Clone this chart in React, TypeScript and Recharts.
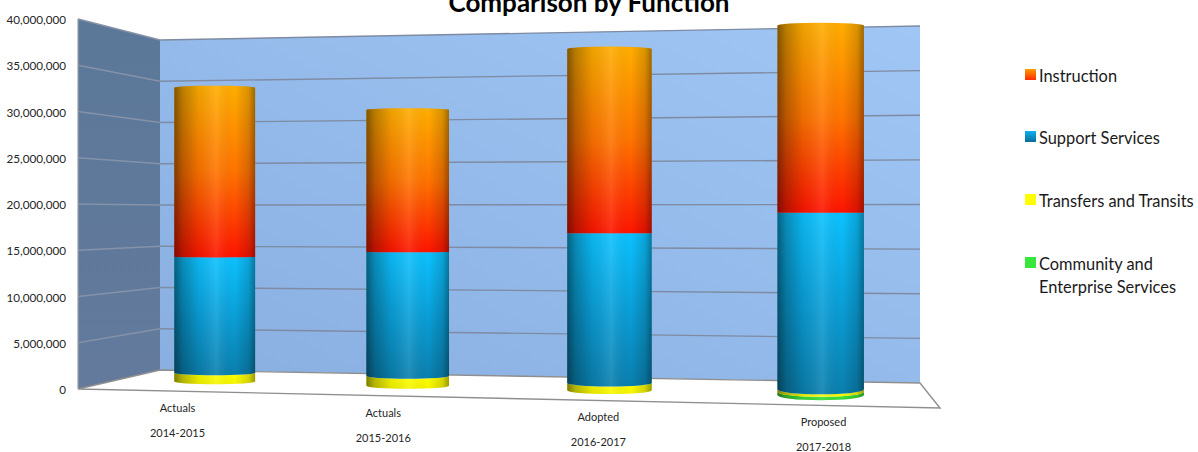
import React from "react";
import { Bar, BarChart, CartesianGrid, Legend, XAxis, YAxis } from "recharts";

// Budget by function, dollars per fiscal year
const periods = ["Actuals", "Actuals", "Adopted", "Proposed"];
const years = ["2014-2015", "2015-2016", "2016-2017", "2017-2018"];
const community = [0, 0, 0, 350000];
const transfers = [1000000, 1090000, 800000, 250000];
const support = [13100000, 13750000, 16250000, 18750000];
const instruction = [19150000, 15750000, 20000000, 19900000];
const axisTicks = [0, 5000000, 10000000, 15000000, 20000000, 25000000, 30000000, 35000000, 40000000];

const rows = years.map((year, i) => ({
  year,
  period: periods[i],
  community: community[i],
  transfers: transfers[i],
  support: support[i],
  instruction: instruction[i],
}));

const FONT = "Lato, sans-serif";
const WIDTH = 1198;
const HEIGHT = 452;
const PLOT_LEFT = 78;
const PLOT_RIGHT = 940;
const PLOT_TOP = 19;
const PLOT_BOTTOM = 389;

// Perspective of the box: evenly spaced categories crowd towards the left.
const PERSPECTIVE = -0.0862;
const depthScale = (u: number) => 1 + PERSPECTIVE * u;
const planeX = (u: number) => (728.5 * u + 121.1) / depthScale(u);
const frontX = (u: number) => (781 * u + 78) / depthScale(u);
const frontFloorY = (x: number) => 389 + 0.022 * (x - 78);
const toU = (x: number) => (x - PLOT_LEFT) / (PLOT_RIGHT - PLOT_LEFT);
const toV = (y: number) => (PLOT_BOTTOM - y) / (PLOT_BOTTOM - PLOT_TOP);

// Value height on the plane the cylinders stand on.
const planeY = (x: number, v: number) => {
  const base = 381.5 + 0.02228 * (x - 214.5);
  const top = 28 - 0.01568 * (x - 214.5);
  return base + (top - base) * v;
};

// How far a cylinder's rim bows at a given height on the page.
const HORIZON = 230;
const rimBow = (y: number, u: number) =>
  y < HORIZON ? (y - HORIZON) * 0.014 : (y - HORIZON) * (0.018 + 0.02 * u * u * u);

const rimArc = (toX: number, y: number, rx: number, bow: number, leftward: boolean) => {
  const ry = Math.abs(bow);
  if (ry < 0.15) return `L${toX},${y}`;
  const bulgesDown = bow > 0;
  const sweep = leftward === bulgesDown ? 1 : 0;
  return `A${rx} ${ry} 0 0 ${sweep} ${toX} ${y}`;
};

// Draws one stacked segment as a slice of a shaded cylinder.
const cylinder = (fillId: string) => (props: any) => {
  const { x, y, width, height } = props;
  if (!height || height <= 0) return <g />;
  const u = toU(x + width / 2);
  const cx = planeX(u);
  const half = width / 2 / depthScale(u);
  const top = planeY(cx, toV(y));
  const bottom = planeY(cx, toV(y + height));
  const l = cx - half;
  const r = cx + half;
  const d =
    `M${l},${top}` +
    rimArc(r, top, half, rimBow(top, u), false) +
    `L${r},${bottom}` +
    rimArc(l, bottom, half, rimBow(bottom, u), true) +
    "Z";
  return (
    <g>
      <path d={d} fill={`url(#${fillId})`} />
      <path d={d} fill="url(#cylinderShade)" />
    </g>
  );
};

// The left wall and the back wall of the box, plus the floor outline.
const Walls = () => (
  <g>
    <polygon points="78,19 160,40 160,370 78,389" fill="url(#sideWall)" />
    <polygon points="160,40 920,26 920,383 160,370" fill="url(#backWall)" />
    <polyline
      points="78,389 940,408 920,383 160,370 78,389"
      fill="#ffffff"
      stroke="#8f8f8f"
      strokeWidth={1.4}
    />
    <line x1={78} y1={19} x2={78} y2={389} stroke="#9a9fa8" strokeWidth={1.2} />
  </g>
);

// A gridline wraps around the box: along the side wall, then across the back.
// The walls go in with the first line so they lie under all of the grid.
const wrappedGridLine = (props: any) => {
  const v = toV(props.y1);
  const frontY = props.y1;
  const backLeft = 370 - 330 * v;
  const backRight = 383 - 357 * v;
  return (
    <g key={props.key}>
      {props.index === 0 ? <Walls /> : null}
      {v > 0.001 ? (
        <>
          <line x1={78} y1={frontY} x2={160} y2={backLeft} stroke="#8592a8" strokeWidth={1.4} />
          <line x1={160} y1={backLeft} x2={920} y2={backRight} stroke="#7e8ba2" strokeWidth={1.4} />
        </>
      ) : null}
    </g>
  );
};

const CategoryTick = (props: any) => {
  const { x, payload, index } = props;
  const px = frontX(toU(x));
  const floor = frontFloorY(px);
  return (
    <g fontFamily={FONT} fontSize={11} fill="#262626" textAnchor="middle">
      <text x={px} y={floor + 21}>{rows[index]?.period}</text>
      <text x={px} y={floor + 46}>{payload.value}</text>
    </g>
  );
};

const swatches: Record<string, string> = {
  "Instruction": "linear-gradient(#ff9c00, #ff2a00)",
  "Support Services": "linear-gradient(#0cb2f2, #0a6c98)",
  "Transfers and Transits": "#ffff00",
  "Community and Enterprise Services": "#38e63c",
};

const legendTops = [64, 126, 189, 252];

const SideLegend = (props: any) => {
  const order = Object.keys(swatches);
  const items = [...(props.payload ?? [])].sort(
    (a: any, b: any) => order.indexOf(a.value) - order.indexOf(b.value),
  );
  return (
    <div style={{ position: "relative", fontFamily: FONT, fontSize: 16.4, color: "#1a1a1a", lineHeight: "23px" }}>
      {items.map((item: any, i: number) => (
        <div key={item.value} style={{ position: "absolute", top: legendTops[i], left: 0, width: 173 }}>
          <span
            style={{
              position: "absolute",
              left: 0,
              top: 5,
              width: 11,
              height: 11,
              background: swatches[item.value],
            }}
          />
          <div style={{ marginLeft: 14 }}>{item.value}</div>
        </div>
      ))}
    </div>
  );
};

export default function App() {
  return (
    <div style={{ position: "absolute", left: 0, top: 0 }}>
      <BarChart
        width={WIDTH}
        height={HEIGHT}
        data={rows}
        margin={{ top: PLOT_TOP, right: WIDTH - PLOT_RIGHT, bottom: 3, left: 8 }}
        barSize={80}
      >
        <defs>
          <linearGradient id="sideWall" x1="0" y1="0" x2="0" y2="1">
            <stop offset="0" stopColor="#5b7899" />
            <stop offset="1" stopColor="#637a9c" />
          </linearGradient>
          <linearGradient id="backWall" x1="1" y1="0" x2="0" y2="1">
            <stop offset="0" stopColor="#9fc6f4" />
            <stop offset="1" stopColor="#88afe0" />
          </linearGradient>
          <linearGradient id="cylinderShade" x1="0" y1="0" x2="1" y2="0">
            <stop offset="0" stopColor="#000000" stopOpacity={0.5} />
            <stop offset="0.1" stopColor="#000000" stopOpacity={0.28} />
            <stop offset="0.3" stopColor="#000000" stopOpacity={0.07} />
            <stop offset="0.52" stopColor="#ffffff" stopOpacity={0.1} />
            <stop offset="0.75" stopColor="#000000" stopOpacity={0} />
            <stop offset="0.92" stopColor="#000000" stopOpacity={0.15} />
            <stop offset="1" stopColor="#000000" stopOpacity={0.38} />
          </linearGradient>
          <linearGradient id="instructionFill" x1="0" y1="0" x2="0" y2="1">
            <stop offset="0" stopColor="#ffae00" />
            <stop offset="0.5" stopColor="#ff7400" />
            <stop offset="1" stopColor="#ff1400" />
          </linearGradient>
          <linearGradient id="supportFill" x1="0" y1="0" x2="0" y2="1">
            <stop offset="0" stopColor="#0cc2ff" />
            <stop offset="0.5" stopColor="#0a9fd8" />
            <stop offset="1" stopColor="#0a7fae" />
          </linearGradient>
          <linearGradient id="transfersFill" x1="0" y1="0" x2="0" y2="1">
            <stop offset="0" stopColor="#ffff00" />
            <stop offset="1" stopColor="#f5f500" />
          </linearGradient>
          <linearGradient id="communityFill" x1="0" y1="0" x2="0" y2="1">
            <stop offset="0" stopColor="#4cf040" />
            <stop offset="1" stopColor="#34d834" />
          </linearGradient>
        </defs>
        <CartesianGrid horizontal={wrappedGridLine} vertical={false} />
        <XAxis
          dataKey="year"
          height={60}
          axisLine={false}
          tickLine={false}
          interval={0}
          tick={CategoryTick}
        />
        <YAxis
          width={70}
          domain={[0, 40000000]}
          ticks={axisTicks}
          interval={0}
          axisLine={false}
          tickLine={false}
          tickSize={0}
          tickMargin={12}
          tick={{ fontFamily: FONT, fontSize: 11.7, fill: "#262626", dy: 1 }}
          tickFormatter={(value: number) => value.toLocaleString("en-US")}
        />
        <Bar dataKey="community" name="Community and Enterprise Services" stackId="fn" fill="#38e63c" isAnimationActive={false} shape={cylinder("communityFill")} />
        <Bar dataKey="transfers" name="Transfers and Transits" stackId="fn" fill="#ffff00" isAnimationActive={false} shape={cylinder("transfersFill")} />
        <Bar dataKey="support" name="Support Services" stackId="fn" fill="#0cb2f2" isAnimationActive={false} shape={cylinder("supportFill")} />
        <Bar dataKey="instruction" name="Instruction" stackId="fn" fill="#ff6a00" isAnimationActive={false} shape={cylinder("instructionFill")} />
        <Legend
          layout="vertical"
          align="center"
          verticalAlign="top"
          content={SideLegend}
          wrapperStyle={{ position: "absolute", left: 1025, top: 0, width: 173, height: 0 }}
        />
        <text
          x={589}
          y={12}
          textAnchor="middle"
          fontFamily={FONT}
          fontSize={26}
          fontWeight={700}
          fill="#000000"
        >
          Comparison by Function
        </text>
      </BarChart>
    </div>
  );
}
